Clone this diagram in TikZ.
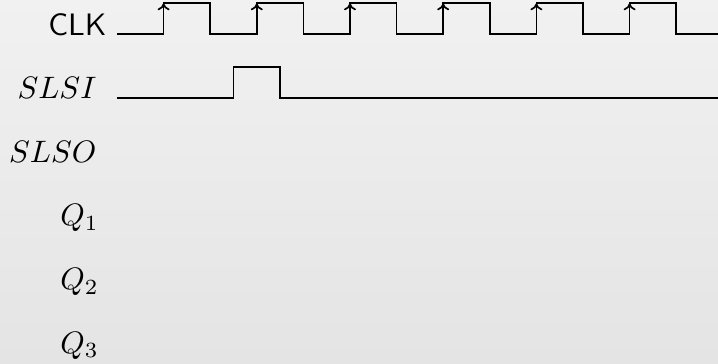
\documentclass[tikz,border=0pt]{standalone}
\usetikzlibrary{arrows.meta}
\definecolor{bgtop}{HTML}{F1F1F1}
\definecolor{bgbot}{HTML}{E4E4E4}
\begin{document}
\begin{tikzpicture}[x=0.5pt,y=-0.5pt,
  wave/.style={line width=0.85pt, line join=miter, line cap=butt},
  edgearrow/.style={line width=0.85pt, -{To[length=3.5pt,width=6pt]}},
  lbl/.style={inner sep=0pt, anchor=base east, scale=1.55},
  sflbl/.style={inner sep=0pt, anchor=base east, scale=1.55, font=\sffamily}]
\shade[top color=bgtop, bottom color=bgbot] (0,0) rectangle (718,364);
\useasboundingbox (0,0) rectangle (718,364);
% labels
\node[sflbl] (clk) at (107,35) {CLK};
\node[lbl] (slsi) at (97,98.6) {$SLSI$};
\node[lbl] (slso) at (97,162.2) {$SLSO$};
\node[lbl] (q1) at (99.5,225.8) {$Q_1$};
\node[lbl] (q2) at (99.5,289.4) {$Q_2$};
\node[lbl] (q3) at (99.5,353) {$Q_3$};
% clock coordinates
\coordinate (cs) at (117,34);
\coordinate (ce) at (718,34);
\foreach \k in {1,...,6}{
  \pgfmathsetmacro\xr{117+46.6*(2*\k-1)}
  \pgfmathsetmacro\xf{117+46.6*(2*\k)}
  \coordinate (rb\k) at (\xr,34);
  \coordinate (rt\k) at (\xr,3.3);
  \coordinate (ft\k) at (\xf,3.3);
  \coordinate (fb\k) at (\xf,34);
}
\draw[wave] (cs) -- (rb1) -- (rt1) -- (ft1) -- (fb1)
  -- (rb2) -- (rt2) -- (ft2) -- (fb2)
  -- (rb3) -- (rt3) -- (ft3) -- (fb3)
  -- (rb4) -- (rt4) -- (ft4) -- (fb4)
  -- (rb5) -- (rt5) -- (ft5) -- (fb5)
  -- (rb6) -- (rt6) -- (ft6) -- (fb6) -- (ce);
\foreach \k in {1,...,6}{
  \draw[edgearrow] (rb\k) -- (rt\k);
}
% SLSI
\coordinate (ss) at (117,98);
\coordinate (sr) at (233.5,98);
\coordinate (srt) at (233.5,67);
\coordinate (sft) at (280.1,67);
\coordinate (sf) at (280.1,98);
\coordinate (se) at (718,98);
\draw[wave] (ss) -- (sr) -- (srt) -- (sft) -- (sf) -- (se);
\end{tikzpicture}
\end{document}
